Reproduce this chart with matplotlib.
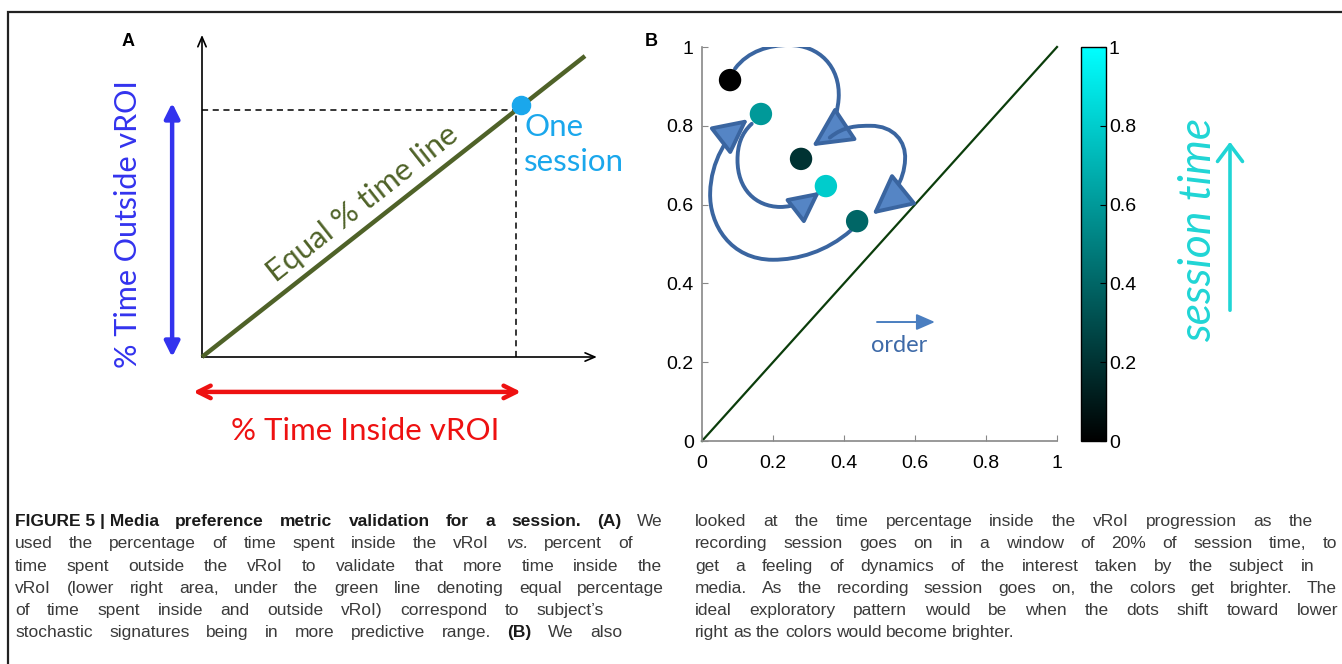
import matplotlib
matplotlib.use('Agg')
import matplotlib.pyplot as plt
from matplotlib.patches import FancyArrowPatch, Rectangle
from matplotlib.path import Path
from matplotlib.colors import LinearSegmentedColormap

# ---------------- data ----------------
# Panel A: one session point (fraction inside, fraction outside)
session_inside = 0.82
session_outside = 0.82

# Panel B: successive windows (20% of session time)
window_inside = [0.079, 0.279, 0.437, 0.166, 0.349]
window_outside = [0.916, 0.716, 0.558, 0.830, 0.647]
window_time = [0.0, 0.2, 0.4, 0.6, 0.8]

b_ticks = [0, 0.2, 0.4, 0.6, 0.8, 1]
b_ticklabels = ['0', '0.2', '0.4', '0.6', '0.8', '1']
cbar_ticks = [0, 0.2, 0.4, 0.6, 0.8, 1]
cbar_ticklabels = ['0', '0.2', '0.4', '0.6', '0.8', '1']

caption_left = [
    [("FIGURE\u00a05\u00a0|\u00a0Media preference metric validation for a session. (A)", 'b'), ("We", 'n')],
    [("used the percentage of time spent inside the vRoI", 'n'), ("vs.", 'i'), ("percent of", 'n')],
    [("time spent outside the vRoI to validate that more time inside the", 'n')],
    [("vRoI (lower right area, under the green line denoting equal percentage", 'n')],
    [("of time spent inside and outside vRoI) correspond to subject\u2019s", 'n')],
    [("stochastic signatures being in more predictive range.", 'n'), ("(B)", 'b'), ("We also", 'n')],
]
caption_right = [
    [("looked at the time percentage inside the vRoI progression as the", 'n')],
    [("recording session goes on in a window of 20% of session time, to", 'n')],
    [("get a feeling of dynamics of the interest taken by the subject in", 'n')],
    [("media. As the recording session goes on, the colors get brighter. The", 'n')],
    [("ideal exploratory pattern would be when the dots shift toward lower", 'n')],
    [("right as the colors would become brighter.", 'n')],
]

# ---------------- setup ----------------
W, H = 1342, 664
fig = plt.figure(figsize=(W / 100, H / 100), dpi=100)
fig.patch.set_facecolor('white')


def fx(px):
    return px / W


def fy(py):
    return 1 - py / H


CAP_FONT = 'Liberation Sans'
SANS = 'Liberation Sans'
HAND = ['Lato', 'Open Sans', 'DejaVu Sans']

# frame
fig.add_artist(Rectangle((fx(8), -0.2), 2.0, fy(12) + 0.2, transform=fig.transFigure,
                         fill=False, edgecolor='#222222', lw=1.6))

# ---------------- Panel A ----------------
ax_a = fig.add_axes([fx(202), fy(357), 383 / W, 301 / H])
ax_a.set_xlim(0, 1)
ax_a.set_ylim(0, 1)
ax_a.axis('off')

ax_a.annotate('', xy=(0, 1.07), xytext=(0, 0),
              arrowprops=dict(arrowstyle='->,head_length=0.7,head_width=0.3', lw=1.2, color='black',
                              shrinkA=0, shrinkB=0), annotation_clip=False)
ax_a.annotate('', xy=(1.031, 0), xytext=(0, 0),
              arrowprops=dict(arrowstyle='->,head_length=0.7,head_width=0.3', lw=1.2, color='black',
                              shrinkA=0, shrinkB=0), annotation_clip=False)
ax_a.plot([0, 1], [0, 1], color='#4F6228', lw=3.2, solid_capstyle='butt', clip_on=False, zorder=3)
ax_a.plot([0, session_inside], [session_outside, session_outside], ls=(0, (4, 3)), color='black', lw=1.1, clip_on=False)
ax_a.plot([session_inside, session_inside], [0, session_outside], ls=(0, (4, 3)), color='black', lw=1.1, clip_on=False)
ax_a.scatter([session_inside + 0.012], [session_outside + 0.017], s=170, color='#1AA7EC', zorder=5, clip_on=False)

ax_a.annotate('', xy=(-0.078, 0.0), xytext=(-0.078, 0.844),
              arrowprops=dict(arrowstyle='<|-|>,head_length=0.9,head_width=0.45', lw=3.2, color='#3333EE',
                              shrinkA=0, shrinkB=0), annotation_clip=False)
ax_a.annotate('', xy=(-0.023, -0.116), xytext=(0.833, -0.116),
              arrowprops=dict(arrowstyle='<->,head_length=0.9,head_width=0.45', lw=3.2, color='#EE1111',
                              shrinkA=0, shrinkB=0), annotation_clip=False)

fig.text(fx(128), fy(224), '% Time Outside vROI', rotation=90, ha='center', va='center',
         color='#3333EE', fontsize=22, family=HAND)
fig.text(fx(365), fy(431), '% Time Inside vROI', ha='center', va='center',
         color='#EE1111', fontsize=22.5, family=HAND)
fig.text(fx(362), fy(203), 'Equal % time line', rotation=38.2, rotation_mode='anchor',
         ha='center', va='center', color='#4F6228', fontsize=22.5, family=HAND)
fig.text(fx(524), fy(113), 'One\nsession', ha='left', va='top', color='#1AA7EC',
         fontsize=22.5, family=HAND, linespacing=1.3)

fig.text(fx(128), fy(41), 'A', ha='center', va='center', fontsize=13, fontweight='bold', family=SANS)
fig.text(fx(651), fy(41), 'B', ha='center', va='center', fontsize=13, fontweight='bold', family=SANS)

# ---------------- Panel B ----------------
ax_b = fig.add_axes([fx(702), fy(441), 355 / W, 394 / H])
ax_b.set_xlim(0, 1)
ax_b.set_ylim(0, 1)
for s in ['top', 'right']:
    ax_b.spines[s].set_visible(False)
for s in ['left', 'bottom']:
    ax_b.spines[s].set_color('#888888')
    ax_b.spines[s].set_linewidth(1.2)
ax_b.set_xticks(b_ticks)
ax_b.set_xticklabels(b_ticklabels)
ax_b.set_yticks(b_ticks)
ax_b.set_yticklabels(b_ticklabels)
ax_b.tick_params(direction='in', length=4, color='#888888', labelsize=14)
ax_b.tick_params(axis='y', pad=6)
ax_b.tick_params(axis='x', pad=10)
for lab in ax_b.get_xticklabels() + ax_b.get_yticklabels():
    lab.set_family(SANS)

ax_b.plot([0, 1], [0, 1], color='#0B3D0B', lw=1.6, clip_on=False)

cmap = LinearSegmentedColormap.from_list('blackcyan', [(0, 0, 0), (0, 1, 1)])

# curved arrows showing order of windows (annotation drawing)
M, C4 = Path.MOVETO, Path.CURVE4
arrow_paths = [
    [(0.093, 0.945), (0.13, 0.99), (0.19, 1.005), (0.245, 1.005),
     (0.33, 1.005), (0.39, 0.95), (0.385, 0.87),
     (0.38, 0.81), (0.355, 0.775), (0.31, 0.748)],
    [(0.36, 0.77), (0.40, 0.80), (0.44, 0.80), (0.475, 0.80),
     (0.54, 0.80), (0.575, 0.76), (0.572, 0.715),
     (0.57, 0.66), (0.535, 0.615), (0.48, 0.575)],
    [(0.42, 0.535), (0.35, 0.48), (0.27, 0.46), (0.20, 0.46),
     (0.08, 0.46), (0.02, 0.55), (0.023, 0.63),
     (0.025, 0.71), (0.07, 0.775), (0.13, 0.817)],
    [(0.14, 0.805), (0.11, 0.78), (0.10, 0.75), (0.10, 0.713),
     (0.10, 0.64), (0.15, 0.595), (0.22, 0.594),
     (0.26, 0.594), (0.30, 0.61), (0.333, 0.633)],
]
head_scales = [21, 21, 18, 16]
for verts, ms in zip(arrow_paths, head_scales):
    codes = [M] + [C4] * (len(verts) - 1)
    arr = FancyArrowPatch(path=Path(verts, codes),
                          arrowstyle='-|>,head_length=1.2,head_width=0.6',
                          mutation_scale=ms, lw=2.8, edgecolor='#3A65A0',
                          facecolor='#5585C5', zorder=4)
    ax_b.add_patch(arr)

sc = ax_b.scatter(window_inside, window_outside, c=window_time, cmap=cmap, vmin=0, vmax=1,
                  s=260, edgecolors='none', zorder=5)

ax_b.annotate('', xy=(0.656, 0.302), xytext=(0.493, 0.302),
              arrowprops=dict(arrowstyle='-|>,head_length=0.8,head_width=0.35', lw=1.4,
                              color='#4A7EC0', shrinkA=0, shrinkB=0, mutation_scale=14))
ax_b.text(0.555, 0.243, 'order', ha='center', va='center', color='#3E6AA8', fontsize=17, family=HAND)

# colorbar
cax = fig.add_axes([fx(1081), fy(441), 25 / W, 394 / H])
cb = fig.colorbar(sc, cax=cax)
cb.set_ticks(cbar_ticks)
cb.set_ticklabels(cbar_ticklabels)
cb.outline.set_edgecolor('black')
cb.outline.set_linewidth(1.0)
cax.tick_params(direction='in', length=4, labelsize=14, pad=2)
for lab in cax.get_yticklabels():
    lab.set_family(SANS)

fig.text(fx(1199), fy(230), 'session time', rotation=90, ha='center', va='center',
         color='#20D5D5', fontsize=32, family=HAND, fontstyle='italic', fontweight='normal')
fig.add_artist(FancyArrowPatch((fx(1230), fy(313)), (fx(1230), fy(139)), transform=fig.transFigure,
                               arrowstyle='->,head_length=0.6,head_width=0.45', mutation_scale=20,
                               lw=2.6, color='#20D5D5'))

# ---------------- Caption ----------------
renderer = fig.canvas.get_renderer()


def place_line(line, x0, x1, ybase, justify=True):
    texts = []
    for seg, kind in line:
        for word in seg.split(' '):
            kw = dict(fontsize=12.5, family=CAP_FONT, color='#3a3a3a', va='baseline', ha='left')
            if kind == 'b':
                kw.update(fontweight='bold', color='#1a1a1a')
            if kind == 'i':
                kw.update(fontstyle='italic')
            texts.append(fig.text(0, fy(ybase), word.replace('\u00a0', ' '), **kw))
    widths = [t.get_window_extent(renderer).width for t in texts]
    if justify:
        gap = (x1 - x0 - sum(widths)) / max(len(texts) - 1, 1)
    else:
        gap = 4.5
    x = x0
    for t, w in zip(texts, widths):
        t.set_x(fx(x))
        x += w + gap


baselines = [526, 548, 571, 593, 615, 637]
left_ends = [663, 633, 662, 664, 604, 622]
right_ends = [1313, 1337, 1314, 1337, 1338, 985]
for i, (line, yb, xe) in enumerate(zip(caption_left, baselines, left_ends)):
    place_line(line, 15, xe, yb)
for i, (line, yb, xe) in enumerate(zip(caption_right, baselines, right_ends)):
    place_line(line, 695, xe, yb, justify=(i < len(caption_right) - 1))

fig.savefig('out.png', dpi=100)
